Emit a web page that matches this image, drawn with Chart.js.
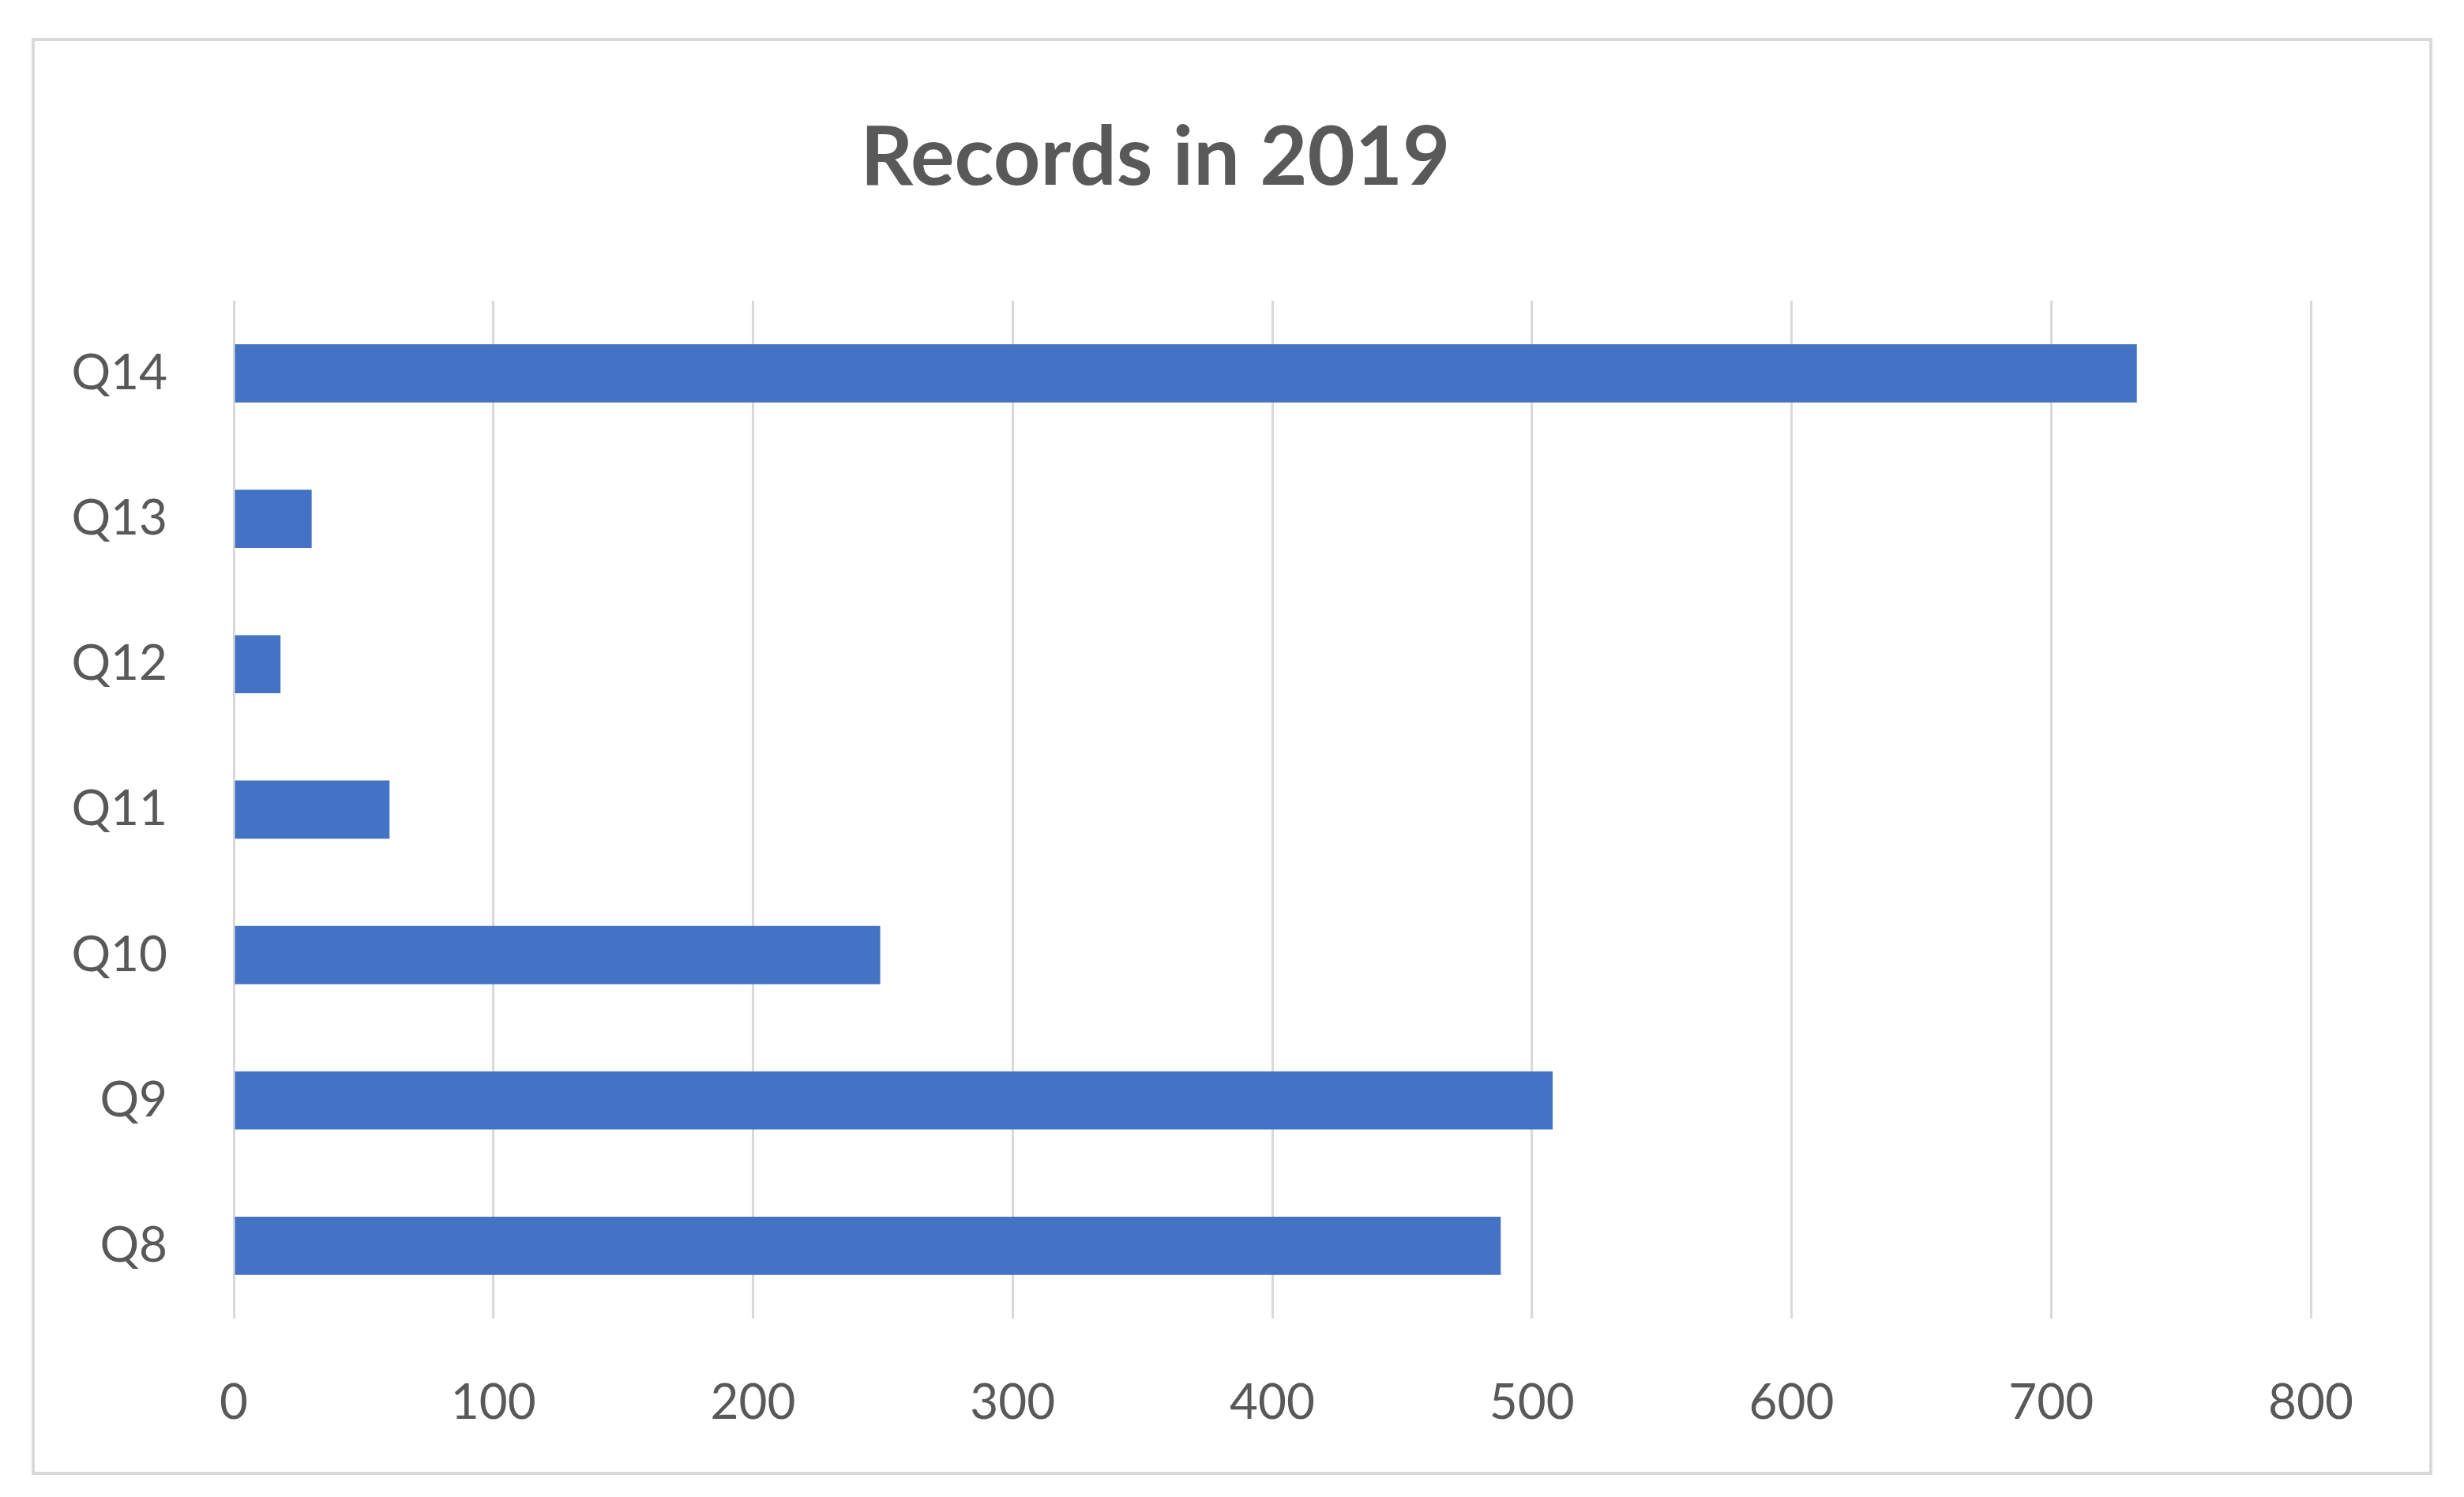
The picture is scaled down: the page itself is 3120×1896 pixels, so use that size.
<!DOCTYPE html>
<html><head><script src="https://cdn.jsdelivr.net/npm/chart.js@4"></script>
<style>html,body{margin:0;background:#fff}</style></head>
<body><canvas id="c" width="3120" height="1896" style="width:3120px;height:1896px"></canvas>
<script>
const categories=["Q14","Q13","Q12","Q11","Q10","Q9","Q8"];
const values=[733,30,18,60,249,508,488];
const xTicks=[0,100,200,300,400,500,600,700,800];
const border={id:'border',afterDraw(c){const x=c.ctx;x.save();x.strokeStyle='#d9d9d9';x.lineWidth=4;x.strokeRect(42,50,3036,1816);x.restore();}};
new Chart(document.getElementById('c'),{type:'bar',
data:{labels:categories,datasets:[{data:values,backgroundColor:'#4472c4',barPercentage:0.4,categoryPercentage:1}]},
options:{indexAxis:'y',responsive:false,animation:false,devicePixelRatio:1,
layout:{padding:{left:0,right:194,top:0,bottom:0}},
plugins:{legend:{display:false},tooltip:{enabled:false},
title:{display:true,text:'Records in 2019',color:'#595959',font:{family:'Lato',size:104},padding:{top:138,bottom:118}}},
scales:{
x:{min:0,max:800,afterBuildTicks(s){s.ticks=xTicks.map(v=>({value:v}));},
grid:{color:'#d9d9d9',lineWidth:3,drawTicks:false},border:{display:false},
ticks:{color:'#595959',font:{family:'Lato',size:62},padding:70},afterFit(s){s.height=226;}},
y:{grid:{display:false},border:{display:false},
ticks:{color:'#595959',font:{family:'Lato',size:62},padding:76},afterFit(s){s.width=296;}}}},
plugins:[border]});
</script></body></html>
